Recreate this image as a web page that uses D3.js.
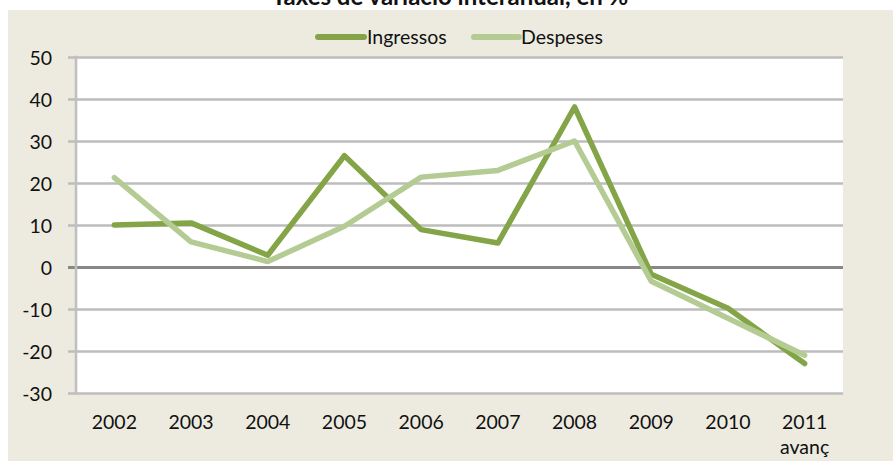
<!DOCTYPE html>
<html>
<head>
<meta charset="utf-8">
<script src="https://cdn.jsdelivr.net/npm/d3@7"></script>
<style>
  html, body { margin: 0; padding: 0; background: #ffffff; }
  svg { display: block; }
  text { font-family: Lato, "Open Sans", sans-serif; fill: #111; }
</style>
</head>
<body>
<svg id="chart" width="893" height="461"></svg>
<script>
const title = "Taxes de variació interanual, en %";
const years = ["2002", "2003", "2004", "2005", "2006", "2007", "2008", "2009", "2010", "2011"];
const yearSubLabels = ["", "", "", "", "", "", "", "", "", "avanç"];
const seriesNames = ["Ingressos", "Despeses"];
const ingressos = [10.0, 10.5, 2.8, 26.5, 8.9, 5.7, 38.1, -1.7, -9.8, -23.0];
const despeses = [21.3, 6.0, 1.3, 9.7, 21.4, 23.0, 30.0, -3.4, -12.2, -21.0];
const yTicks = [-30, -20, -10, 0, 10, 20, 30, 40, 50];

const colors = ["#84a547", "#b4cc94"];
const W = 893, H = 461;
const plot = { left: 76, right: 843, top: 57, bottom: 393 };

const svg = d3.select("#chart");

// background panel
svg.append("rect").attr("x", 8).attr("y", 10).attr("width", W - 8).attr("height", H - 10).attr("fill", "#edebe0");
svg.append("rect").attr("x", plot.left).attr("y", plot.top)
  .attr("width", plot.right - plot.left).attr("height", plot.bottom - plot.top).attr("fill", "#ffffff");

// title (partially clipped at top, as in the reference)
svg.append("text").attr("x", 450).attr("y", 5).attr("text-anchor", "middle")
  .style("font-size", "24px").style("font-weight", "bold").text(title);

const x = d3.scaleBand().domain(years).range([plot.left, plot.right]);
const y = d3.scaleLinear().domain([-30, 50]).range([plot.bottom, plot.top]);

// gridlines
const ga = svg.append("g").attr("transform", `translate(68,0)`)
  .call(d3.axisRight(y).tickValues(yTicks).tickSize(plot.right - 68).tickFormat(""));
ga.select(".domain").remove();
ga.selectAll(".tick line")
  .attr("stroke", d => d === 0 ? "#888888" : "#bdbdbd")
  .attr("stroke-width", d => d === 0 ? 3 : 2.6);

// vertical axis line
svg.append("line").attr("x1", plot.left).attr("x2", plot.left)
  .attr("y1", plot.top - 1.3).attr("y2", plot.bottom + 1.3)
  .attr("stroke", "#c0c0c0").attr("stroke-width", 2.6);

// y labels
const gl = svg.append("g").attr("transform", `translate(52,0)`)
  .call(d3.axisLeft(y).tickValues(yTicks).tickSize(0).tickPadding(0).tickFormat(d => String(d)));
gl.select(".domain").remove();
gl.selectAll("text").style("font-size", "19.5px").style("font-family", "Lato, sans-serif").attr("fill", "#111").attr("dy", "0.36em");

// x labels
const gx = svg.append("g").attr("transform", `translate(0,${plot.bottom})`)
  .call(d3.axisBottom(x).tickSize(0).tickPadding(0));
gx.select(".domain").remove();
gx.selectAll("text").remove();
gx.selectAll(".tick").each(function(d, i) {
  const t = d3.select(this).append("text").attr("text-anchor", "middle").style("font-size", "19.5px").attr("fill", "#111");
  t.append("tspan").attr("x", 0).attr("y", 36).text(d);
  if (yearSubLabels[i]) t.append("tspan").attr("x", 0).attr("y", 60.5).text(yearSubLabels[i]);
});

// lines
const line = d3.line().x((d, i) => x(years[i]) + x.bandwidth() / 2).y(d => y(d));
[ingressos, despeses].forEach((vals, k) => {
  svg.append("path").datum(vals).attr("d", line).attr("fill", "none")
    .attr("stroke", colors[k]).attr("stroke-width", 5.5)
    .attr("stroke-linejoin", "round").attr("stroke-linecap", "round");
});

// legend
const legendItems = [
  { name: seriesNames[0], color: colors[0], x0: 318, x1: 364, tx: 367 },
  { name: seriesNames[1], color: colors[1], x0: 474, x1: 519, tx: 521 }
];
legendItems.forEach(it => {
  svg.append("line").attr("x1", it.x0).attr("x2", it.x1).attr("y1", 37).attr("y2", 37)
    .attr("stroke", it.color).attr("stroke-width", 6).attr("stroke-linecap", "round");
  svg.append("text").attr("x", it.tx).attr("y", 44).style("font-size", "19.5px").text(it.name);
});
</script>
</body>
</html>
